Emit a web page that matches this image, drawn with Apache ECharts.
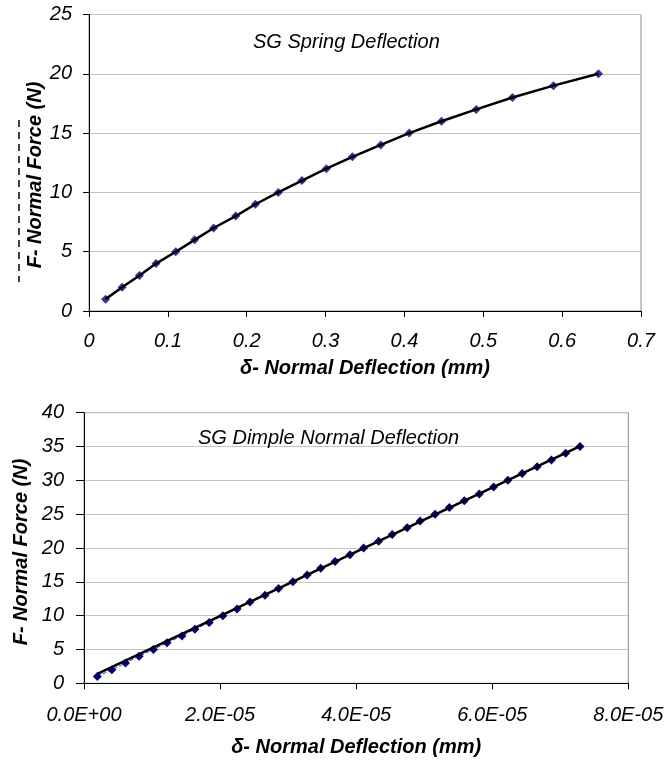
<!DOCTYPE html>
<html>
<head>
<meta charset="utf-8">
<script src="https://cdn.jsdelivr.net/npm/echarts@6/dist/echarts.min.js"></script>
<style>
  html, body { margin: 0; padding: 0; background: #fff; }
  #chart { width: 667px; height: 762px; }
</style>
</head>
<body>
<div id="chart"></div>
<script>
// spring chart (top)
var springDefl = [0.021, 0.042, 0.064, 0.085, 0.110, 0.134, 0.158, 0.186, 0.211, 0.240,
                  0.270, 0.301, 0.334, 0.370, 0.406, 0.447, 0.491, 0.537, 0.589, 0.646];
var springForce = [1, 2, 3, 4, 5, 6, 7, 8, 9, 10, 11, 12, 13, 14, 15, 16, 17, 18, 19, 20];

// dimple chart (bottom)
var dimpleDefl = [1.96e-6, 4.1e-6, 6.1e-6, 8.1e-6, 1.02e-5, 1.22e-5, 1.44e-5, 1.63e-5, 1.84e-5, 2.04e-5,
                  2.25e-5, 2.44e-5, 2.66e-5, 2.86e-5, 3.07e-5, 3.28e-5, 3.48e-5, 3.69e-5, 3.91e-5, 4.11e-5,
                  4.33e-5, 4.53e-5, 4.75e-5, 4.94e-5, 5.16e-5, 5.37e-5, 5.59e-5, 5.81e-5, 6.02e-5, 6.23e-5,
                  6.44e-5, 6.66e-5, 6.87e-5, 7.08e-5, 7.29e-5];
var dimpleForce = [1, 2, 3, 4, 5, 6, 7, 8, 9, 10, 11, 12, 13, 14, 15, 16, 17, 18, 19, 20,
                   21, 22, 23, 24, 25, 26, 27, 28, 29, 30, 31, 32, 33, 34, 35];
// black trend line
var trendDefl = [1.96e-6, 7.3e-5];
var trendForce = [1.4, 35.1];

var titles = ['SG Spring Deflection', 'SG Dimple Normal Deflection'];
var xName = 'δ- Normal Deflection (mm)';
var yName = 'F- Normal Force (N)';

function pairs(xs, ys) {
  return xs.map(function (x, i) { return [x, ys[i]]; });
}

function sci(v) {
  var s = v.toExponential(1).split('e');
  var e = parseInt(s[1], 10);
  var ab = Math.abs(e);
  return s[0] + 'E' + (e < 0 ? '-' : '+') + (ab < 10 ? '0' + ab : '' + ab);
}

var FONT = '"Liberation Sans", Arial, sans-serif';
var tickText = { color: '#000', fontStyle: 'italic', fontSize: 20, fontFamily: FONT };
var nameText = { color: '#000', fontStyle: 'italic', fontWeight: 'bold', fontSize: 20, fontFamily: FONT };
var titleText = { color: '#000', fontStyle: 'italic', fontWeight: 'normal', fontSize: 20, fontFamily: FONT };

function xAxisOf(idx, max, interval, fmt, margin, gap) {
  return {
    type: 'value', gridIndex: idx, min: 0, max: max, interval: interval,
    name: xName, nameLocation: 'middle', nameGap: gap, nameTextStyle: nameText,
    axisLine: { onZero: false, lineStyle: { color: '#000', width: 1 } },
    axisTick: { show: true, length: 6, lineStyle: { color: '#000' } },
    axisLabel: Object.assign({ margin: margin, formatter: fmt }, tickText),
    splitLine: { show: false }
  };
}

function yAxisOf(idx, max, tickLen, margin) {
  return {
    type: 'value', gridIndex: idx, min: 0, max: max, interval: 5,
    axisLine: { show: true, lineStyle: { color: '#000', width: 1 } },
    axisTick: { show: true, length: tickLen, lineStyle: { color: '#000' } },
    axisLabel: Object.assign({ margin: margin }, tickText),
    splitLine: { show: true, lineStyle: { color: '#c4c4c4', width: 1 } }
  };
}

function yNameText(x, y) {
  return {
    type: 'text', x: x, y: y, rotation: Math.PI / 2, z: 10,
    style: Object.assign({ text: yName, align: 'center', verticalAlign: 'middle', fill: '#000',
      font: 'italic bold 20px ' + FONT }, {})
  };
}

var chart = echarts.init(document.getElementById('chart'), null, { renderer: 'canvas' });

chart.setOption({
  backgroundColor: '#fff',
  animation: false,
  title: [
    { text: titles[0], left: 253, top: 32, textStyle: titleText, padding: 0 },
    { text: titles[1], left: 198, top: 428, textStyle: titleText, padding: 0 }
  ],
  grid: [
    { left: 89, top: 14.5, right: 26, bottom: 451, show: true, borderColor: '#8c8c8c', borderWidth: 1 },
    { left: 84, top: 412.7, right: 38.7, bottom: 78.7, show: true, borderColor: '#8c8c8c', borderWidth: 1 }
  ],
  xAxis: [
    xAxisOf(0, 0.7, 0.1, null, 20, 47),
    xAxisOf(1, 8e-5, 2e-5, sci, 22, 54)
  ],
  yAxis: [
    yAxisOf(0, 25, 6, 17),
    yAxisOf(1, 40, 8, 20)
  ],
  graphic: [
    { type: 'line', shape: { x1: 19, y1: 120, x2: 19, y2: 282 },
      style: { stroke: '#000', lineWidth: 1.5, lineDash: [7, 5] } },
    yNameText(35, 175),
    yNameText(21, 552)
  ],
  series: [
    {
      type: 'scatter', xAxisIndex: 0, yAxisIndex: 0, z: 2,
      data: pairs(springDefl, springForce),
      symbol: 'diamond', symbolSize: 9,
      itemStyle: { color: '#000080' }
    },
    {
      type: 'line', xAxisIndex: 0, yAxisIndex: 0, z: 3,
      data: pairs(springDefl, springForce),
      showSymbol: false, symbol: 'none',
      lineStyle: { color: '#000', width: 2.5 }
    },
    {
      type: 'line', xAxisIndex: 1, yAxisIndex: 1, z: 2,
      data: pairs(dimpleDefl, dimpleForce),
      symbol: 'diamond', symbolSize: 9,
      itemStyle: { color: '#000080' },
      lineStyle: { color: '#3333cc', width: 1, type: 'dashed' }
    },
    {
      type: 'line', xAxisIndex: 1, yAxisIndex: 1, z: 3,
      data: pairs(trendDefl, trendForce),
      showSymbol: false, symbol: 'none',
      lineStyle: { color: '#000', width: 2.5 }
    }
  ]
});
</script>
</body>
</html>
